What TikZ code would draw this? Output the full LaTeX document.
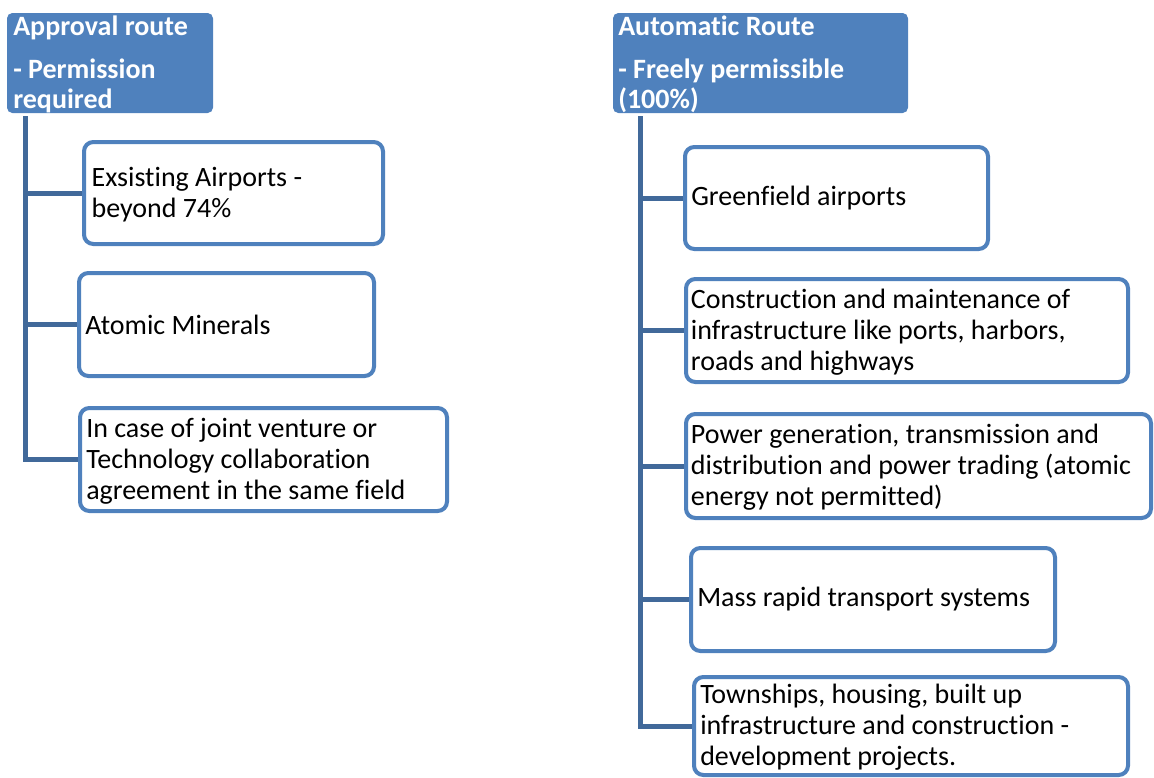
\documentclass[tikz,border=0pt]{standalone}
\usepackage{fontspec}
\setmainfont{Carlito}[Ligatures={NoCommon}]
\usetikzlibrary{fit}
\definecolor{accent}{HTML}{4F81BD}
\definecolor{trunkc}{HTML}{41699A}
\tikzset{
  itembox/.style={draw=accent, line width=3pt, rounded corners=7pt, fill=white, inner sep=0pt},
  headbox/.style={fill=accent, rounded corners=4pt, inner sep=0pt},
  itemtext/.style={anchor=west, align=left, inner sep=0pt, text=black,
    font=\fontsize{21pt}{23.25pt}\selectfont},
  headtext/.style={anchor=base west, align=left, inner sep=0pt, text=white,
    font=\bfseries\fontsize{21pt}{22.5pt}\selectfont},
  link/.style={draw=trunkc, line width=3.75pt},
}
\begin{document}
\begin{tikzpicture}[x=0.75pt, y=-0.75pt]
\useasboundingbox (0,0) rectangle (1154,778);

% ---- left column: approval route ----
\node[headbox, fit={(7,13) (213,113)}] (hl) {};
% base anchor sits on the last line's baseline
\node[headtext] (hlt) at (13,108) {Approval route\\[9.75pt]- Permission\\required};

\node[itembox, fit={(84,142) (383,244)}] (l1) {};
\node[itemtext] (l1t) at ([xshift=7pt,yshift=-1pt]l1.west) {Exsisting Airports -\\beyond 74\%};
\node[itembox, fit={(79,273) (374,376)}] (l2) {};
\node[itemtext] (l2t) at ([xshift=6pt]l2.west) {Atomic Minerals};
\node[itembox, fit={(80,408) (447,511)}] (l3) {};
\node[itemtext] (l3t) at ([xshift=6pt,yshift=-1pt]l3.west) {In case of joint venture or\\Technology collaboration\\agreement in the same field};

\coordinate (tl) at (25,116);
\draw[link] (tl) |- (l3.west);
\draw[link] (tl |- l1.west) -- (l1.west);
\draw[link] (tl |- l2.west) -- (l2.west);

% ---- right column: automatic route ----
\node[headbox, fit={(613,13) (908,113)}] (hr) {};
\node[headtext] (hrt) at (618,108) {Automatic Route\\[9.75pt]- Freely permissible\\(100\%)};

\node[itembox, fit={(685,147) (988,249)}] (r1) {};
\node[itemtext] (r1t) at ([xshift=6pt]r1.west) {Greenfield airports};
\node[itembox, fit={(686,279) (1128,382)}] (r2) {};
\node[itemtext] (r2t) at ([xshift=5pt,yshift=-1pt]r2.west) {Construction and maintenance of\\infrastructure like ports, harbors,\\roads and highways};
\node[itembox, fit={(686,414) (1151,518)}] (r3) {};
\node[itemtext] (r3t) at ([xshift=5pt,yshift=-1pt]r3.west) {Power generation, transmission and\\distribution and power trading (atomic\\energy not permitted)};
\node[itembox, fit={(691,548) (1055,651)}] (r4) {};
\node[itemtext] (r4t) at ([xshift=6pt]r4.west) {Mass rapid transport systems};
\node[itembox, fit={(694,677) (1128,775)}] (r5) {};
\node[itemtext] (r5t) at ([xshift=6pt,yshift=-1pt]r5.west) {Townships, housing, built up\\infrastructure and construction -\\development projects.};

\coordinate (tr) at (640,116);
\draw[link] (tr) |- (r5.west);
\foreach \b in {r1,r2,r3,r4}
  \draw[link] (tr |- \b.west) -- (\b.west);
\end{tikzpicture}
\end{document}
